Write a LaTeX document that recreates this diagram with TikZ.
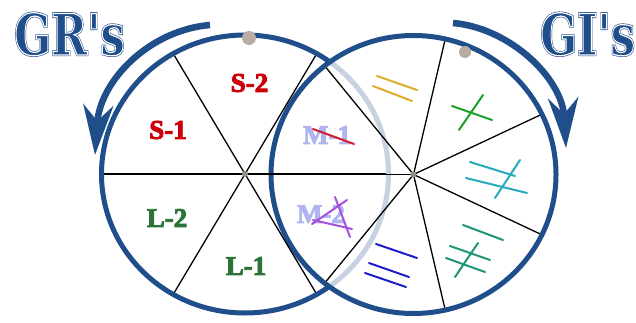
\documentclass[tikz,border=0pt]{standalone}
\usepackage{fontspec}
\setmainfont{Liberation Serif}
\newfontfamily\titlefont{DejaVu Serif}
\usepackage{graphicx}
\usetikzlibrary{arrows.meta}
\definecolor{gblue}{RGB}{31,78,138}
\definecolor{sred}{RGB}{205,0,10}
\definecolor{lgreen}{RGB}{45,115,55}
\definecolor{mlav}{RGB}{176,180,240}
\definecolor{dotgrey}{RGB}{185,172,160}
\definecolor{hubgrey}{RGB}{150,140,130}
\definecolor{symgold}{RGB}{222,172,40}
\definecolor{symgreen}{RGB}{30,160,40}
\definecolor{symteal}{RGB}{40,170,190}
\definecolor{symsea}{RGB}{30,150,120}
\definecolor{symblue}{RGB}{30,30,200}
\definecolor{sympurple}{RGB}{165,80,225}
\definecolor{symred}{RGB}{210,30,50}
\newcommand\strokedtext[2]{\special{pdf:literal direct 2 Tr #1 w}#2\special{pdf:literal direct 0 Tr}}
\newcommand\outlinetext[2]{\special{pdf:literal direct 1 Tr #1 w}#2\special{pdf:literal direct 0 Tr}}
\tikzset{
  ring/.style={draw=gblue, line width=5pt},
  spoke/.style={draw=black, line width=1.3pt},
  turnarrow/.style={draw=gblue, line width=6.5pt, -{Stealth[length=50pt,width=30pt,inset=16pt]}},
  sectorlabel/.style={font=\bfseries\fontsize{27}{27}\selectfont, inner sep=0pt},
  titletext/.style={font=\titlefont\bfseries\fontsize{57}{57}\selectfont, inner sep=0pt, anchor=base west},
  symline/.style={line width=2pt, line cap=round},
  greydot/.style={fill=dotgrey, draw=none},
  hubdot/.style={fill=hubgrey, draw=none}
}
\begin{document}
\begin{tikzpicture}[x=1pt,y=1pt]
\useasboundingbox (0,0) rectangle (636,-323);
\coordinate (LC) at (245,-174);
\coordinate (RC) at (413.5,-174.5);
% left wheel
\path[fill=white] (LC) ellipse [x radius=143.5, y radius=139];
\draw[ring] (LC) ellipse [x radius=143.5, y radius=139];
% right wheel (translucent face)
\path[fill=white, fill opacity=0.75] (RC) ellipse [x radius=142.5, y radius=139];
\draw[ring] (RC) ellipse [x radius=142.5, y radius=139];
% spokes
\foreach \a in {0,60,...,300}
  \draw[spoke] (LC) -- ++(\a:141 and 136.5);
\foreach \k in {0,...,6}
  \draw[spoke] (RC) -- ++({180+\k*360/7}:140 and 136.5);
\fill[hubdot] (LC) circle (3);
\fill[hubdot] (RC) circle (3);
% labels
\node[sectorlabel, text=sred] (s2) at (249.5,-83) {\strokedtext{0.9}{S-2}};
\node[sectorlabel, text=sred] (s1) at (168,-130) {\strokedtext{0.9}{S-1}};
\node[sectorlabel, text=lgreen] (l2) at (167,-218) {\strokedtext{0.9}{L-2}};
\node[sectorlabel, text=lgreen] (l1) at (246,-266) {\strokedtext{0.9}{L-1}};
\node[sectorlabel, text=mlav] (m1) at (327,-135) {\strokedtext{0.9}{M-1}};
\node[sectorlabel, text=mlav] (m2) at (321,-214) {\strokedtext{0.9}{M-2}};
% marks
\draw[symline, symred] (313,-129) -- (354,-144);
\draw[symline, sympurple] (312,-224) -- (347,-200);
\draw[symline, sympurple] (335,-197) -- (350,-237);
\draw[symline, sympurple] (313,-220) -- (352,-229);
\draw[symline, symgold] (377,-76) -- (417,-90);
\draw[symline, symgold] (373,-86) -- (412,-101);
\draw[symline, symgreen] (452,-106) -- (492,-120);
\draw[symline, symgreen] (483,-95) -- (459,-130);
\draw[symline, symteal] (470,-162) -- (515,-176);
\draw[symline, symteal] (466,-178) -- (527,-193);
\draw[symline, symteal] (520,-160) -- (495,-198);
\draw[symline, symsea] (463,-225) -- (503,-240);
\draw[symline, symsea] (450,-246) -- (490,-260);
\draw[symline, symsea] (446,-258) -- (485,-272);
\draw[symline, symsea] (478,-243) -- (455,-277);
\draw[symline, symblue] (376,-244) -- (417,-258);
\draw[symline, symblue] (369,-263) -- (409,-277);
\draw[symline, symblue] (365,-273) -- (406,-287);
% grey dots
\fill[greydot] (249,-38) circle (7);
\fill[greydot] (465,-52) circle (6);
% rotation arrows
\coordinate (gra) at (210,-25);
\coordinate (grb) at (95,-155);
\coordinate (gia) at (453,-23);
\coordinate (gib) at (566,-148);
\draw[turnarrow] (gra) .. controls (150,-30) and (100,-80) .. (grb);
\draw[turnarrow] (gia) .. controls (510,-28) and (562,-78) .. (gib);
% titles
\node[titletext, text=gblue] (grs) at (14,-55) {\scalebox{0.76}[1]{\strokedtext{2.4}{GR's}}};
\node[titletext, text=white] (grsin) at (14,-55) {\scalebox{0.76}[1]{\outlinetext{1.2}{GR's}}};
\node[titletext, text=gblue] (gis) at (540,-55) {\scalebox{0.76}[1]{\strokedtext{2.4}{GI's}}};
\node[titletext, text=white] (gisin) at (540,-55) {\scalebox{0.76}[1]{\outlinetext{1.2}{GI's}}};
\end{tikzpicture}
\end{document}
